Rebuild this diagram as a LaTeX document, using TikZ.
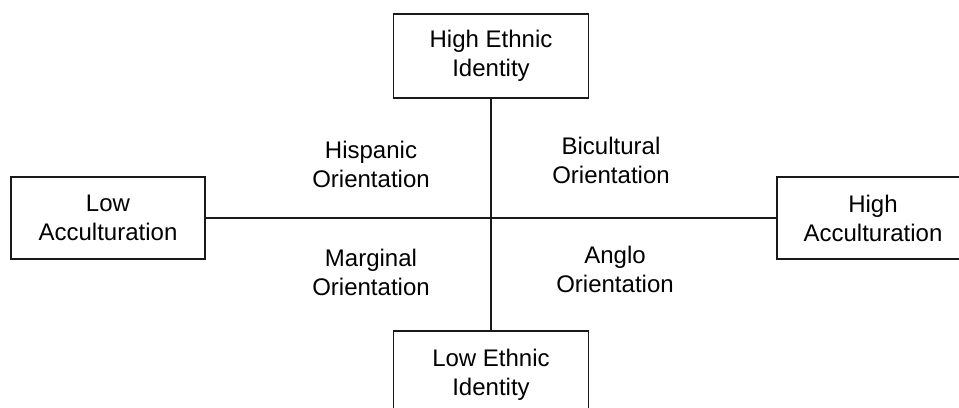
\documentclass[tikz,border=0pt]{standalone}
\usepackage{fontspec}
\setmainfont{Liberation Sans}
\begin{document}
\begin{tikzpicture}[x=0.75pt,y=-0.75pt,
  box/.style={draw=black!90,line width=1.3pt,align=center,inner sep=0pt,
    font=\fontsize{18}{21.75}\selectfont},
  lbl/.style={align=center,inner sep=0pt,font=\fontsize{18}{21.75}\selectfont},
  axis/.style={draw=black!90,line width=1.1pt}]
\clip (0,0) rectangle (959,407);
\node[box,minimum width=195*0.75pt,minimum height=84*0.75pt] (top) at (491,56) {High Ethnic\\Identity};
\node[box,minimum width=194*0.75pt,minimum height=82*0.75pt] (left) at (108,218) {Low\\Acculturation};
\node[box,minimum width=192*0.75pt,minimum height=82*0.75pt] (right) at (873,218) {High\\Acculturation};
\node[box,minimum width=195*0.75pt,minimum height=88*0.75pt] (bottom) at (491,375) {Low Ethnic\\Identity};
\draw[axis] (top.south) -- (bottom.north);
\draw[axis] (left.east) -- (right.west);
\node[lbl] (hisp) at (371,164) {Hispanic\\Orientation};
\node[lbl] (bicu) at (611,160) {Bicultural\\Orientation};
\node[lbl] (marg) at (371,272) {Marginal\\Orientation};
\node[lbl] (angl) at (615,269) {Anglo\\Orientation};
\end{tikzpicture}
\end{document}
